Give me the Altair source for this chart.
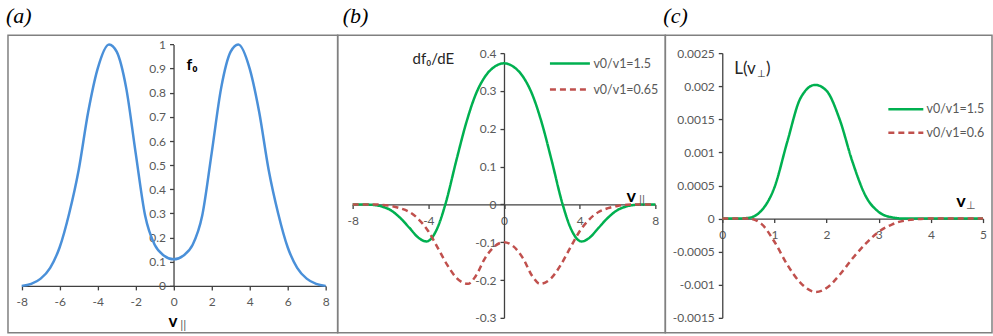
import altair as alt
import pandas as pd

# ---------------- data ----------------
# (a) f0 versus v_parallel
a_v = [-8, -7.5, -7, -6.5, -6, -5.5, -5, -4.5, -4, -3.4, -3, -2.5, -2, -1.5, -1, -0.5, 0,
       0.5, 1, 1.5, 2, 2.5, 3, 3.4, 4, 4.5, 5, 5.5, 6, 6.5, 7, 7.5, 8]
a_f0 = [0.0, 0.008, 0.03, 0.075, 0.16, 0.3, 0.48, 0.72, 0.9, 1.0, 0.97, 0.82, 0.55, 0.29, 0.17, 0.125, 0.11,
        0.125, 0.17, 0.29, 0.55, 0.82, 0.97, 1.0, 0.9, 0.72, 0.48, 0.3, 0.16, 0.075, 0.03, 0.008, 0.0]

# (b) df0/dE versus v_parallel
b_v_g = [-8, -7.5, -7, -6.5, -6, -5.5, -5, -4.5, -4.1, -3.5, -3.1, -2.5, -2, -1.5, -1, -0.5, 0,
         0.5, 1, 1.5, 2, 2.5, 3.1, 3.5, 4.1, 4.5, 5, 5.5, 6, 6.5, 7, 7.5, 8]
b_g = [0, 0, -0.001, -0.005, -0.015, -0.035, -0.062, -0.089, -0.098, -0.06, 0.0, 0.12, 0.215, 0.29, 0.338, 0.364, 0.373,
       0.364, 0.338, 0.29, 0.215, 0.12, 0.0, -0.06, -0.098, -0.089, -0.062, -0.035, -0.015, -0.005, -0.001, 0, 0]
b_v_r = [-8, -7, -6.5, -6, -5.5, -5, -4.5, -4, -3.5, -3, -2.5, -1.9, -1.5, -1, -0.5, 0,
         0.5, 1, 1.5, 1.9, 2.5, 3, 3.5, 4, 4.5, 5, 5.5, 6, 6.5, 7, 8]
b_r = [0, 0, -0.001, -0.004, -0.01, -0.02, -0.04, -0.071, -0.115, -0.16, -0.195, -0.21, -0.19, -0.142, -0.111, -0.1,
       -0.111, -0.142, -0.19, -0.21, -0.195, -0.16, -0.115, -0.071, -0.04, -0.02, -0.01, -0.004, -0.001, 0, 0]
b_names = ["v0/v1=1.5", "v0/v1=0.65"]

# (c) L(v_perp) versus v_perp
c_v_g = [0, 0.25, 0.5, 0.75, 1, 1.25, 1.5, 1.78, 2, 2.25, 2.5, 2.75, 3, 3.25, 3.5, 4, 4.5, 5]
c_g = [0, 0, 0.00001, 0.00012, 0.00047, 0.00117, 0.00182, 0.00202, 0.00193, 0.0015, 0.00085, 0.00034,
       0.0001, 0.00002, 0, 0, 0, 0]
c_v_r = [0, 0.25, 0.5, 0.75, 1, 1.25, 1.5, 1.8, 2, 2.25, 2.5, 2.75, 3, 3.25, 3.5, 4, 4.5, 5]
c_r = [0, 0, 0, -0.00008, -0.00035, -0.0007, -0.00097, -0.00111, -0.00105, -0.00085, -0.0006, -0.00038,
       -0.0002, -0.00009, -0.00003, 0, 0, 0]
c_names = ["v0/v1=1.5", "v0/v1=0.6"]

# tick values
a_xticks = [-8, -6, -4, -2, 0, 2, 4, 6, 8]
a_yticks = [0, 0.1, 0.2, 0.3, 0.4, 0.5, 0.6, 0.7, 0.8, 0.9, 1]
b_xticks = [-8, -4, 0, 4, 8]
b_yticks = [-0.3, -0.2, -0.1, 0, 0.1, 0.2, 0.3, 0.4]
c_xticks = [0, 1, 2, 3, 4, 5]
c_yticks = [-0.0015, -0.001, -0.0005, 0, 0.0005, 0.001, 0.0015, 0.002, 0.0025]

# ---------------- style ----------------
FONT = "Lato"
LABEL_COLOR = "#595959"
TEXT_COLOR = "#262626"
GREEN = "#00B050"
RED = "#C0504D"
BLUE = "#4A90D9"
H = 298


def xaxis(values, offset):
    return alt.Axis(values=values, orient="bottom", offset=offset, title=None,
                    labelExpr="'' + datum.value", labelFlush=False, labelOverlap=False,
                    labelPadding=7, tickSize=4)


def yaxis(values, offset):
    return alt.Axis(values=values, orient="left", offset=offset, title=None,
                    labelExpr="'' + datum.value", labelOverlap=False,
                    labelPadding=4, tickSize=4)


def text_layer(xs, ys, ax, ay, x, y, t, size, bold=False, color=TEXT_COLOR, align="left"):
    df = pd.DataFrame({"x": [x], "y": [y], "t": [t]})
    return alt.Chart(df).mark_text(
        align=align, baseline="middle", font=FONT, fontSize=size,
        fontWeight="bold" if bold else "normal", color=color
    ).encode(
        x=alt.X("x:Q", scale=xs, axis=ax),
        y=alt.Y("y:Q", scale=ys, axis=ay),
        text="t:N",
    )


def legend(x, y, size, lo, rp):
    return alt.Legend(title=None, orient="none", legendX=x, legendY=y, padding=0,
                      symbolType="M-2,0H2", symbolSize=size, symbolStrokeWidth=2.5,
                      labelFont=FONT, labelFontSize=12.5, labelColor=LABEL_COLOR,
                      labelOffset=lo, rowPadding=rp)


def title(t, dx):
    return alt.TitleParams(t, anchor="start", frame="group", font="Liberation Serif",
                           fontSize=22, fontStyle="italic", fontWeight="normal",
                           color="black", baseline="alphabetic", offset=-10, dx=dx)


# ---------------- panel (a) ----------------
xs_a = alt.Scale(domain=[-8, 8], range=[13.7, 318], nice=False, zero=False)
ys_a = alt.Scale(domain=[0, 1], range=[251, 9.3], nice=False, zero=False)
ax_a = xaxis(a_xticks, -(H - 251))
ay_a = yaxis(a_yticks, -165.7)

line_a = alt.Chart(pd.DataFrame({"v": a_v, "f": a_f0})).mark_line(
    color=BLUE, strokeWidth=2.5, interpolate="monotone"
).encode(
    x=alt.X("v:Q", scale=xs_a, axis=ax_a),
    y=alt.Y("f:Q", scale=ys_a, axis=ay_a),
)
panel_a = alt.layer(
    line_a,
    text_layer(xs_a, ys_a, ax_a, ay_a, 0.68, 0.913, "f₀", 16, bold=True, color="black"),
    text_layer(xs_a, ys_a, ax_a, ay_a, -0.04, -0.148, "v", 17, bold=True, color="black", align="center"),
    text_layer(xs_a, ys_a, ax_a, ay_a, 0.5, -0.16, "||", 12, color=LABEL_COLOR, align="center"),
).properties(width=330, height=H, title=title("(a)", -2))

# ---------------- panel (b) ----------------
xs_b = alt.Scale(domain=[-8, 8], range=[15, 318], nice=False, zero=False)
ys_b = alt.Scale(domain=[-0.3, 0.4], range=[283, 18], nice=False, zero=False)
ax_b = xaxis(b_xticks, -(H - (283 - 0.3 / 0.7 * 265)))
ay_b = yaxis(b_yticks, -166.5)
col_b = alt.Scale(domain=b_names, range=[GREEN, RED])
dash_b = alt.Scale(domain=b_names, range=[[1, 0], [6, 4]])
leg_b = legend(221, 17, 400, 12, 8)


def line_b(v, y, name):
    df = pd.DataFrame({"v": v, "y": y, "s": [name] * len(v)})
    return alt.Chart(df).mark_line(strokeWidth=2.5, interpolate="monotone").encode(
        x=alt.X("v:Q", scale=xs_b, axis=ax_b),
        y=alt.Y("y:Q", scale=ys_b, axis=ay_b),
        color=alt.Color("s:N", scale=col_b, legend=leg_b),
        strokeDash=alt.StrokeDash("s:N", scale=dash_b, legend=leg_b),
    )


panel_b = alt.layer(
    line_b(b_v_g, b_g, b_names[0]),
    line_b(b_v_r, b_r, b_names[1]),
    text_layer(xs_b, ys_b, ax_b, ay_b, -4.83, 0.384, "df₀/dE", 15),
    text_layer(xs_b, ys_b, ax_b, ay_b, 6.73, 0.019, "v", 18, bold=True, color="black", align="center"),
    text_layer(xs_b, ys_b, ax_b, ay_b, 7.3, 0.012, "||", 12, color=LABEL_COLOR, align="center"),
).properties(width=328, height=H, title=title("(b)", 5))

# ---------------- panel (c) ----------------
xs_c = alt.Scale(domain=[0, 5], range=[57, 318], nice=False, zero=False)
ys_c = alt.Scale(domain=[-0.0015, 0.0025], range=[283, 18], nice=False, zero=False)
ax_c = xaxis(c_xticks, -(H - (283 - 1.5 / 4 * 265)))
ay_c = yaxis(c_yticks, -57)
col_c = alt.Scale(domain=c_names, range=[GREEN, RED])
dash_c = alt.Scale(domain=c_names, range=[[1, 0], [6, 4]])
leg_c = legend(230.75, 64.25, 306.25, 10.75, 6.5)


def line_c(v, y, name):
    df = pd.DataFrame({"v": v, "y": y, "s": [name] * len(v)})
    return alt.Chart(df).mark_line(strokeWidth=2.5, interpolate="monotone").encode(
        x=alt.X("v:Q", scale=xs_c, axis=ax_c),
        y=alt.Y("y:Q", scale=ys_c, axis=ay_c),
        color=alt.Color("s:N", scale=col_c, legend=leg_c),
        strokeDash=alt.StrokeDash("s:N", scale=dash_c, legend=leg_c),
    )


panel_c = alt.layer(
    line_c(c_v_g, c_g, c_names[0]),
    line_c(c_v_r, c_r, c_names[1]),
    text_layer(xs_c, ys_c, ax_c, ay_c, 0.23, 0.00226, "L(v", 17),
    text_layer(xs_c, ys_c, ax_c, ay_c, 0.67, 0.00218, "⊥", 10),
    text_layer(xs_c, ys_c, ax_c, ay_c, 0.84, 0.00226, ")", 17),
    text_layer(xs_c, ys_c, ax_c, ay_c, 4.58, 0.00025, "v", 18, bold=True, color="black", align="center"),
    text_layer(xs_c, ys_c, ax_c, ay_c, 4.77, 0.00019, "⊥", 11, color=LABEL_COLOR, align="center"),
).properties(width=327, height=H, title=title("(c)", -2))

chart = alt.hconcat(panel_a, panel_b, panel_c, spacing=0, bounds="flush").resolve_scale(
    color="independent", strokeDash="independent"
).properties(
    padding={"left": 5, "top": 4, "right": 0, "bottom": 3},
    background="white",
).configure_view(
    stroke="#808080", strokeWidth=1.5
).configure_axis(
    grid=False, labelFont=FONT, labelFontSize=12, labelColor=LABEL_COLOR,
    domainColor="#404040", tickColor="#404040", domainWidth=1.3, tickWidth=1.3,
)

chart.save("out.html", embed_options={"renderer": "svg", "actions": False})
